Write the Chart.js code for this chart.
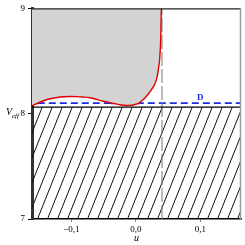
<!DOCTYPE html>
<html>
<head>
<meta charset="utf-8">
<script src="https://cdn.jsdelivr.net/npm/chart.js@4.4.1/dist/chart.umd.min.js"></script>
<style>
html,body{margin:0;padding:0;background:#fff;}
#wrap{width:245px;height:245px;}
</style>
</head>
<body>
<div id="wrap"><canvas id="c" width="245" height="245"></canvas></div>
<script>
// Data
const xRange = [-0.161, 0.163];
const yRange = [7, 9];
const xTicks = [-0.1, 0.0, 0.1];
const yTicks = [7, 8, 9];
const xTickLabels = ['\u22120,1', '0,0', '0,1'];
const hatchLevel = 8.062;          // upper edge of the hatched region
const dLevel = 8.10;               // blue dashed level "D"
const asymptoteX = 0.0405;         // gray dashed vertical line
const curveU = [-0.161, -0.152, -0.143, -0.133, -0.122, -0.112, -0.102, -0.092, -0.082, -0.071, -0.063, -0.056, -0.047, -0.037, -0.030, -0.025, -0.019, -0.014, -0.008, -0.003, 0.0047, 0.0093, 0.0145, 0.0197, 0.025, 0.0295, 0.033, 0.0352, 0.0368, 0.0377, 0.0386, 0.0392, 0.0395];
const curveV = [8.075, 8.100, 8.123, 8.142, 8.154, 8.161, 8.163, 8.162, 8.158, 8.151, 8.140, 8.127, 8.114, 8.101, 8.091, 8.085, 8.080, 8.078, 8.079, 8.085, 8.101, 8.123, 8.152, 8.189, 8.235, 8.283, 8.350, 8.434, 8.510, 8.594, 8.720, 8.906, 9.0];
const crossU = [-0.152, -0.037, 0.0047];

const toPts = (xs, ys) => xs.map((x, i) => ({x: x, y: ys[i]}));
const serif = "'Liberation Serif', 'DejaVu Serif', serif";

// hatching of the region below hatchLevel (texture only)
const hatchPlugin = {
  id: 'hatch',
  beforeDatasetsDraw(chart) {
    const ctx = chart.ctx, a = chart.chartArea;
    const top = chart.scales.y.getPixelForValue(hatchLevel);
    const bottom = a.bottom;
    const spacing = 10, slope = 2.5;
    const run = (bottom - top) / slope;
    ctx.save();
    ctx.beginPath();
    ctx.rect(a.left, top, a.right - a.left, bottom - top);
    ctx.clip();
    ctx.strokeStyle = '#111';
    ctx.lineWidth = 1;
    ctx.beginPath();
    for (let x0 = a.left - run - spacing; x0 < a.right + spacing; x0 += spacing) {
      ctx.moveTo(Math.round(x0) + 0.5, bottom);
      ctx.lineTo(Math.round(x0) + 0.5 + run, top);
    }
    ctx.stroke();
    ctx.restore();
  }
};

const extras = {
  id: 'extras',
  afterDatasetsDraw(chart) {
    const ctx = chart.ctx, a = chart.chartArea;
    const xs = chart.scales.x, ys = chart.scales.y;
    ctx.save();
    // top frame line
    ctx.strokeStyle = '#222'; ctx.lineWidth = 1.2;
    ctx.beginPath(); ctx.moveTo(a.left, a.top + 0.5); ctx.lineTo(a.right, a.top + 0.5); ctx.stroke();
    // right frame line
    ctx.strokeStyle = '#999'; ctx.lineWidth = 1.5;
    ctx.beginPath(); ctx.moveTo(a.right - 0.5, a.top); ctx.lineTo(a.right - 0.5, a.bottom); ctx.stroke();
    // "D" label
    ctx.fillStyle = '#1a2ee0';
    ctx.font = "bold 9px " + serif;
    ctx.textAlign = 'center'; ctx.textBaseline = 'alphabetic';
    ctx.fillText('D', xs.getPixelForValue(0.1), ys.getPixelForValue(dLevel) - 3);
    // y axis title V_eff
    ctx.fillStyle = '#000';
    ctx.textAlign = 'left';
    const yy = ys.getPixelForValue(8) + 1;
    ctx.font = "italic 10px " + serif;
    ctx.fillText('V', 6, yy);
    ctx.font = "italic 7px " + serif;
    ctx.fillText('eff', 12, yy + 3);
    ctx.restore();
  }
};

new Chart(document.getElementById('c'), {
  type: 'scatter',
  data: {
    datasets: [
      {
        label: 'hatch edge',
        data: toPts(xRange, [hatchLevel, hatchLevel]),
        showLine: true, pointRadius: 0,
        borderColor: '#000', borderWidth: 1.3,
        fill: false
      },
      {
        label: 'curve',
        data: toPts(curveU, curveV),
        showLine: true, pointRadius: 0, cubicInterpolationMode: 'monotone',
        borderColor: '#e00000', borderWidth: 1.4,
        backgroundColor: '#d3d3d3', fill: 'end'
      },
      {
        label: 'asym',
        data: toPts([asymptoteX, asymptoteX], yRange),
        showLine: true, pointRadius: 0,
        borderColor: '#808080', borderWidth: 1.1, borderDash: [14, 3],
        fill: false
      },
      {
        label: 'D',
        data: toPts([crossU[0], xRange[1]], [dLevel, dLevel]),
        showLine: true, pointRadius: 0,
        borderColor: '#1a2ee0', borderWidth: 1.8, borderDash: [7, 4],
        fill: false
      },
      {
        label: 'cross',
        data: crossU.map(u => ({x: u, y: dLevel})),
        showLine: false, pointRadius: 1.6, pointStyle: 'rect',
        backgroundColor: '#1a2ee0', borderColor: '#1a2ee0', borderWidth: 0
      }
    ]
  },
  options: {
    responsive: false,
    animation: false,
    events: [],
    layout: {padding: {top: 7, right: 4, left: 0, bottom: 0}},
    plugins: {legend: {display: false}, tooltip: {enabled: false}},
    scales: {
      x: {
        type: 'linear', min: xRange[0], max: xRange[1],
        afterBuildTicks: s => { s.ticks = xTicks.map(v => ({value: v})); },
        afterFit: s => { s.height = 26; },
        ticks: {
          font: {family: serif, size: 9}, color: '#000', padding: 2, maxRotation: 0,
          callback: (v) => xTickLabels[xTicks.findIndex(t => Math.abs(t - v) < 1e-9)]
        },
        grid: {display: true, drawOnChartArea: false, drawTicks: true, tickLength: 3, color: '#888'},
        border: {display: true, color: '#000', width: 1.5},
        title: {display: true, text: 'u', font: {family: serif, size: 10, style: 'italic'}, color: '#000', padding: {top: 0, bottom: 1}}
      },
      y: {
        type: 'linear', min: yRange[0], max: yRange[1],
        afterBuildTicks: s => { s.ticks = yTicks.map(v => ({value: v})); },
        afterFit: s => { s.width = 32; },
        ticks: {font: {family: serif, size: 9}, color: '#000', padding: 3},
        grid: {display: true, drawOnChartArea: false, drawTicks: true, tickLength: 4, color: '#000'},
        border: {display: true, color: '#333', width: 3}
      }
    }
  },
  plugins: [hatchPlugin, extras]
});
</script>
</body>
</html>
